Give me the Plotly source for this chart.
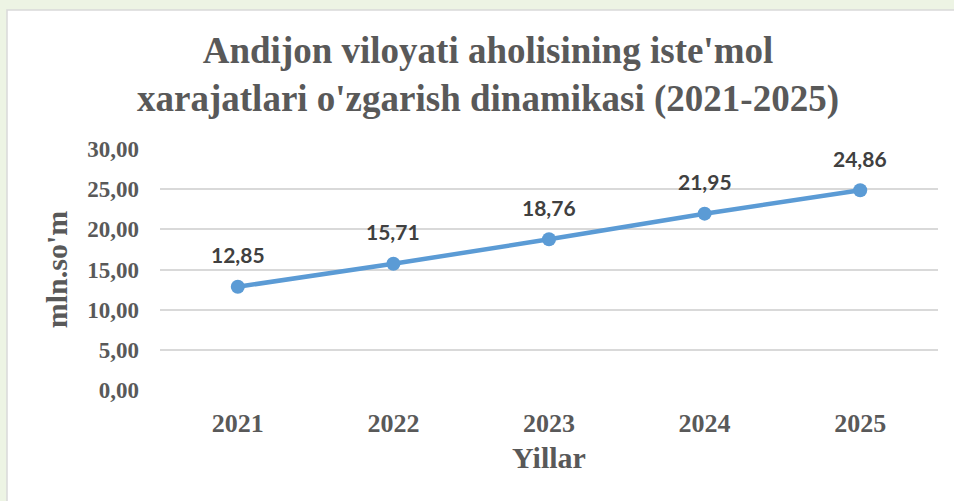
import plotly.graph_objects as go

years = ["2021", "2022", "2023", "2024", "2025"]
values = [12.85, 15.71, 18.76, 21.95, 24.86]
labels = ["12,85", "15,71", "18,76", "21,95", "24,86"]
y_ticks = [0, 5, 10, 15, 20, 25, 30]
y_tick_labels = ["0,00", "5,00", "10,00", "15,00", "20,00", "25,00", "30,00"]

W, H = 954, 501
L, R, T, B = 160, 16, 149, 111
pw, ph = W - L - R, H - T - B

def px(xp):
    return (xp - L) / pw

def py(yp):
    return (H - B - yp) / ph

serif = "Liberation Serif"
grey = "#595959"

fig = go.Figure()
fig.add_trace(go.Scatter(
    x=years, y=values, mode="lines+markers",
    line=dict(color="#5B9BD5", width=4.5),
    marker=dict(color="#5B9BD5", size=14),
    hoverinfo="skip", showlegend=False,
))

annots = [dict(x=i, y=v, xref="x", yref="y", text="<b>%s</b>" % t, showarrow=False,
               yshift=32, font=dict(family="Lato", size=21, color="#404040"))
          for i, (v, t) in enumerate(zip(values, labels))]

fig.update_layout(
    width=W, height=H,
    margin=dict(l=L, r=R, t=T, b=B),
    paper_bgcolor="#edf4e4",
    plot_bgcolor="rgba(0,0,0,0)",
    annotations=annots,
    shapes=[dict(type="rect", xref="paper", yref="paper",
                 x0=px(7), x1=px(960), y0=py(10), y1=py(510),
                 fillcolor="white", line=dict(color="#d9d9d9", width=1.5), layer="below")],
    title=dict(text="<b>Andijon viloyati aholisining iste'mol<br>xarajatlari o'zgarish dinamikasi (2021-2025)</b>",
               xref="container", yref="container",
               x=488 / W, xanchor="center", y=1 - 63 / H, yanchor="middle",
               font=dict(family=serif, size=37, color=grey)),
    xaxis=dict(type="category", range=[-0.5, 4.5], showgrid=False, zeroline=False,
               showline=False, ticks="", ticklabelstandoff=15,
               tickvals=years, ticktext=["<b>%s</b>" % y for y in years],
               tickfont=dict(family=serif, size=26, color=grey),
               title=dict(text="<b>Yillar</b>", font=dict(family=serif, size=30, color=grey), standoff=9)),
    yaxis=dict(range=[0, 30], tickvals=y_ticks, ticktext=["<b>%s</b>" % s for s in y_tick_labels],
               showgrid=True, gridcolor="#d9d9d9", gridwidth=1.5, zeroline=False,
               showline=False, ticks="", ticklabelstandoff=20,
               tickfont=dict(family=serif, size=23, color=grey),
               title=dict(text="<b>mln.so'm</b>", font=dict(family=serif, size=30, color=grey), standoff=10)),
)
fig.write_html("out.html", config={"displayModeBar": False},
               post_script="document.body.style.margin='0';document.body.style.overflow='hidden';")
